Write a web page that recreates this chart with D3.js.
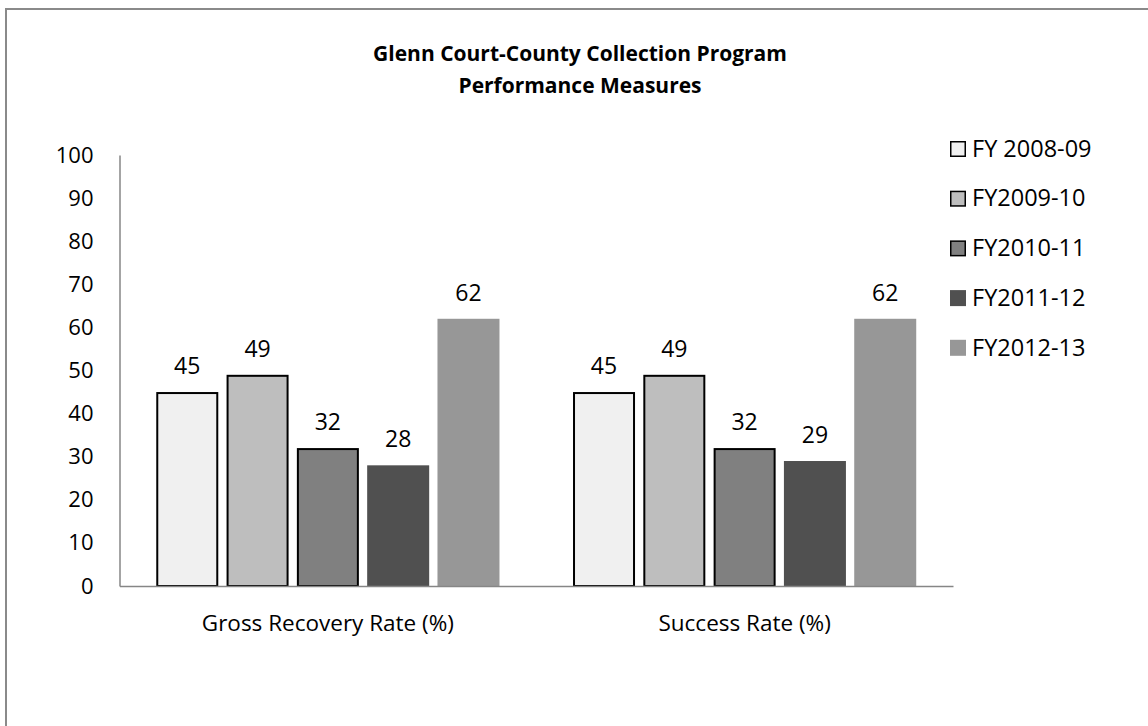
<!DOCTYPE html>
<html>
<head>
<meta charset="utf-8">
<script src="https://cdn.jsdelivr.net/npm/d3@7"></script>
<style>
  html, body { margin: 0; padding: 0; background: #fff; }
  svg { display: block; font-family: "Open Sans", sans-serif; }
</style>
</head>
<body>
<svg id="chart" width="1148" height="726"></svg>
<script>
const categories = ["Gross Recovery Rate (%)", "Success Rate (%)"];
const seriesNames = ["FY 2008-09", "FY2009-10", "FY2010-11", "FY2011-12", "FY2012-13"];
const seriesValues = [
  [45, 45],
  [49, 49],
  [32, 32],
  [28, 29],
  [62, 62]
];
const yTicks = [0, 10, 20, 30, 40, 50, 60, 70, 80, 90, 100];
const titleLines = ["Glenn Court-County Collection Program", "Performance Measures"];

const fills = ["#f0f0f0", "#bebebe", "#808080", "#505050", "#979797"];
const outlined = [true, true, true, false, false];

const svg = d3.select("#chart");

// frame
svg.append("rect")
  .attr("x", 6).attr("y", 9).attr("width", 1160).attr("height", 740)
  .attr("fill", "none").attr("stroke", "#8a8a8a").attr("stroke-width", 2);

const plot = { left: 119.5, right: 953, top: 155, bottom: 586 };

const y = d3.scaleLinear().domain([0, 100]).range([plot.bottom, plot.top]);
const x0 = d3.scaleBand().domain(categories).range([plot.left, plot.right]).paddingInner(0).paddingOuter(0);
const x1 = d3.scaleBand().domain(d3.range(seriesNames.length))
  .range([0, x0.bandwidth()]).paddingInner(0.118).paddingOuter(0.523);

// title
svg.append("g").selectAll("text").data(titleLines).join("text")
  .attr("x", 580).attr("y", (d, i) => 61 + i * 32)
  .attr("text-anchor", "middle")
  .attr("font-weight", "bold").attr("font-size", 21)
  .attr("fill", "#000")
  .text(d => d);

// y axis
const yAxis = d3.axisLeft(y).tickValues(yTicks).tickSize(0).tickPadding(26);
const gy = svg.append("g").attr("transform", `translate(${plot.left},0)`).call(yAxis);
gy.select(".domain").attr("stroke", "#868686").attr("stroke-width", 1.5);
gy.selectAll("text").attr("font-size", 22).attr("fill", "#000").attr("font-family", "Open Sans, sans-serif");

// bars
const data = [];
seriesValues.forEach((vals, s) => vals.forEach((v, c) => data.push({ s, c, v })));

svg.append("g").selectAll("rect").data(data).join("rect")
  .attr("x", d => x0(categories[d.c]) + x1(d.s) + (outlined[d.s] ? 1 : 0))
  .attr("y", d => y(d.v) + (outlined[d.s] ? 1 : 0))
  .attr("width", d => x1.bandwidth() - (outlined[d.s] ? 2 : 0))
  .attr("height", d => y(0) - y(d.v) - (outlined[d.s] ? 1 : 0))
  .attr("fill", d => fills[d.s])
  .attr("stroke", d => outlined[d.s] ? "#000" : "none")
  .attr("stroke-width", 2);

// value labels
svg.append("g").selectAll("text").data(data).join("text")
  .attr("x", d => x0(categories[d.c]) + x1(d.s) + x1.bandwidth() / 2)
  .attr("y", d => y(d.v) - 18)
  .attr("text-anchor", "middle")
  .attr("font-size", 23).attr("fill", "#000")
  .text(d => d.v);

// x axis
const xAxis = d3.axisBottom(x0).tickSize(0).tickPadding(29);
const gx = svg.append("g").attr("transform", `translate(0,${plot.bottom})`).call(xAxis);
gx.select(".domain").attr("stroke", "#868686").attr("stroke-width", 1.5);
gx.selectAll("text").attr("font-size", 22.5).attr("fill", "#000").attr("font-family", "Open Sans, sans-serif");

// legend
const legend = svg.append("g").selectAll("g").data(seriesNames).join("g")
  .attr("transform", (d, i) => `translate(950, ${148.5 + i * 49.7})`);
legend.append("rect")
  .attr("x", (d, i) => outlined[i] ? 0.75 : 0)
  .attr("y", (d, i) => -7.5 + (outlined[i] ? 0.75 : 0))
  .attr("width", (d, i) => outlined[i] ? 14.5 : 16)
  .attr("height", (d, i) => outlined[i] ? 14.5 : 16)
  .attr("fill", (d, i) => fills[i])
  .attr("stroke", (d, i) => outlined[i] ? "#000" : "none")
  .attr("stroke-width", 1.5);
legend.append("text")
  .attr("x", 22).attr("y", 0).attr("dy", "0.35em")
  .attr("font-size", 23.5).attr("fill", "#000")
  .text(d => d);
</script>
</body>
</html>
